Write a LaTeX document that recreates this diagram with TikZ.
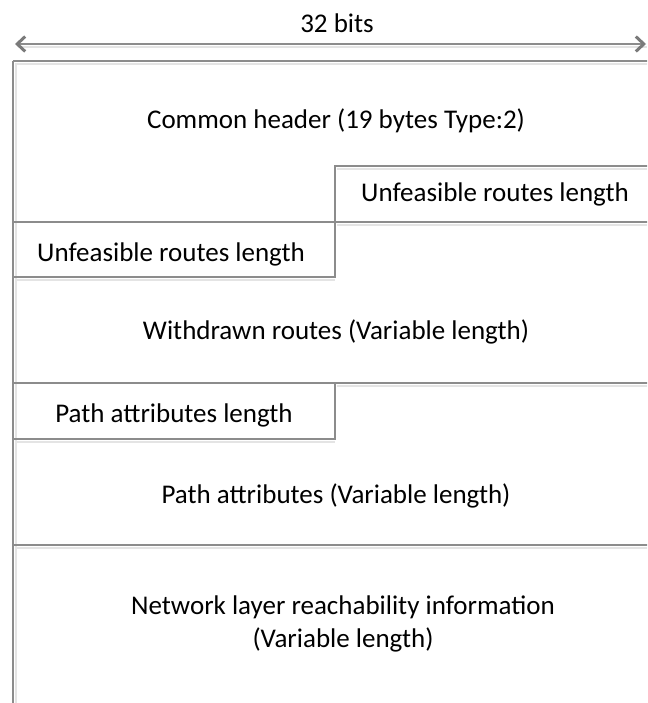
\documentclass[tikz,border=0pt]{standalone}
\usepackage{fontspec}
\setmainfont{Carlito}
\usetikzlibrary{arrows.meta}
\definecolor{rule}{HTML}{8C8C8C}
\definecolor{tip}{HTML}{7A7A7A}
\definecolor{shade}{HTML}{E4E4E4}
\tikzset{
  x=1pt, y=-1pt,
  rulestyle/.style={draw=rule, line width=1.3pt},
  shadestyle/.style={draw=shade, line width=2.5pt},
  label/.style={font=\fontsize{27}{33}\selectfont, text=black, inner sep=0pt, align=center},
  widtharrow/.style={draw=rule, line width=1.2pt,
    {Straight Barb[length=8pt, width=15pt, line width=3pt, color=tip]}-{Straight Barb[length=8pt, width=15pt, line width=3pt, color=tip]}}
}
\begin{document}
\begin{tikzpicture}
\useasboundingbox[fill=white] (0,0) rectangle (647,703);
\begin{scope}
\clip (0,0) rectangle (647,703);

% width indicator
\coordinate (wl) at (15,44);
\coordinate (wr) at (646,44);
\draw[shadestyle] (19,47) -- (647,47);
\draw[widtharrow] (wl) -- (wr);

% frame corners and row boundaries
\coordinate (tl) at (13,61);   \coordinate (tr) at (649,61);
\coordinate (bl) at (13,705);
\coordinate (u1) at (335,166); \coordinate (u1r) at (649,166);
\coordinate (r2l) at (13,222); \coordinate (r2r) at (649,222);
\coordinate (u2b) at (335,277); \coordinate (u2bl) at (13,277);
\coordinate (r3l) at (13,383); \coordinate (r3r) at (649,383);
\coordinate (p1b) at (335,439); \coordinate (p1bl) at (13,439);
\coordinate (r4l) at (13,545); \coordinate (r4r) at (649,545);

% soft shadows under the rules
\draw[shadestyle] (15,64) -- (649,64);
\draw[shadestyle] (337,169) -- (649,169);
\draw[shadestyle] (337,225) -- (649,225);
\draw[shadestyle] (15,280) -- (335,280);
\draw[shadestyle] (337,386) -- (649,386);
\draw[shadestyle] (15,442) -- (335,442);
\draw[shadestyle] (15,548) -- (649,548);
\draw[draw=shade, line width=2pt] (15.5,64) -- (15.5,705);

% rules
\draw[rulestyle] (tl) -- (tr);
\draw[rulestyle] (tl) -- (bl);
\draw[rulestyle] (u1r) -- (u1) -- (u2b) -- (u2bl);
\draw[rulestyle] (r2l) -- (r2r);
\draw[rulestyle] (r3l) -- (r3r);
\draw[rulestyle] (r3l -| u1) -- (p1b) -- (p1bl);
\draw[rulestyle] (r4l) -- (r4r);
\end{scope}

% field labels
\node[label] (bits) at (337,23) {32 bits};
\node[label] (hdr) at (336,121) {Common header (19 bytes Type:2)};
\node[label] (ufr) at (495,194) {Unfeasible routes length};
\node[label] (ufl) at (171,254) {Unfeasible routes length};
\node[label] (wdr) at (336,332) {Withdrawn routes (Variable length)};
\node[label] (pal) at (174,415) {Path attributes length};
\node[label] (pat) at (336,496) {Path attributes (Variable length)};
\node[label] (nlri) at (343,624) {Network layer reachability information\\(Variable length)};
\end{tikzpicture}
\end{document}
